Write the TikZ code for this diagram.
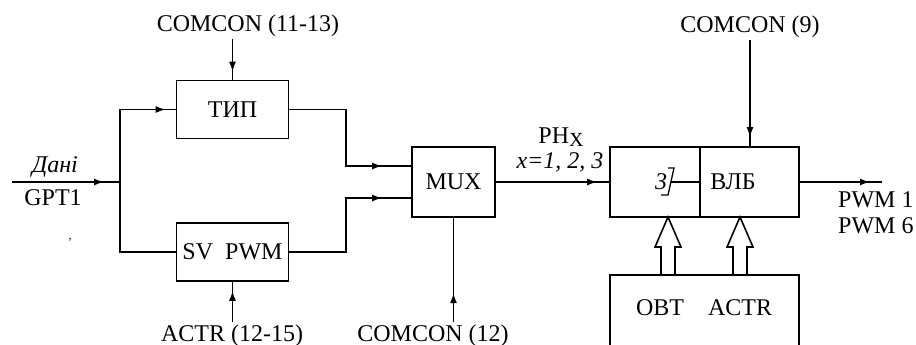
\documentclass[tikz,border=0pt]{standalone}
\usepackage{fontspec}
\setmainfont{Liberation Serif}
\usetikzlibrary{arrows.meta, decorations.markings, positioning, calc}

\begin{document}
\begin{tikzpicture}[
    x=1pt, y=-1pt,
    every node/.style={font=\fontsize{24}{28}\selectfont, inner sep=2pt},
    block/.style={draw, line width=1.6pt, minimum width=#1, minimum height=58pt, inner sep=0pt},
    wire/.style={line width=1.6pt},
    tipat/.style={postaction={decorate}, decoration={markings, mark=at position #1 with {\arrow{Latex[length=10pt,width=7pt]}}}}
  ]

    % Frame
    \useasboundingbox (0,0) rectangle (916,345);
    \clip (0,0) rectangle (916,345);

    % Blocks
    \node[block=112pt] (tip) at (232.5,109.5) {ТИП};
    \node[block=112pt] (svpwm) at (232.5,252) {SV\ \ PWM};
    \node[block=83pt, minimum height=70pt] (mux) at (453.5,182) {MUX};
    \node[block=90pt, minimum height=70pt] (conv) at (655,182) {};
    \node[block=99pt, minimum height=70pt] (vlb) at (749.5,182) {};
    \node[block=189pt, minimum height=100pt] (obt) at (704.5,325) {};

    % Labels
    \node[anchor=base] (comcon1) at (248,32) {COMCON (11-13)};
    \node[anchor=base] (dani) at (55,172) {\textit{Дані}};
    \node[anchor=base] (gpt) at (53,205) {GPT1};
    \node[font=\fontsize{12}{12}\selectfont] (speck) at (70,240) {,};
    \node[anchor=base] (actr1) at (232,341) {ACTR (12-15)};
    \node[anchor=base] (comcon2) at (433,341) {COMCON (12)};
    \node[anchor=base] (phx) at (561,143) {PH\raisebox{-0.3ex}{\fontsize{20}{20}\selectfont X}};
    \node[anchor=base] (xval) at (560,168) {\textit{x=1, 2, 3}};
    \node[anchor=base] (comcon3) at (750,33) {COMCON (9)};
    \node[anchor=base] (vlbtxt) at (733,189) {ВЛБ};
    \node[anchor=base] (three) at (661,189) {\textit{3}};
    \node[anchor=base west] (pwm1) at (836,207) {PWM 1};
    \node[anchor=base west] (pwm6) at (836,233) {PWM 6};
    \node[anchor=base] (obttxt) at (660,315) {OBT};
    \node[anchor=base] (actr2) at (740,315) {ACTR};

    % Wires
    \coordinate (gin) at (12,182);
    \coordinate (br) at (120,182);
    \coordinate (gout) at (882,182);
    \coordinate (m1) at ([yshift=16pt]mux.west);
    \coordinate (m2) at ([yshift=-16pt]mux.west);

    \draw[wire, tipat=-16pt] (gin) -- (br);
    \draw[wire, tipat=-10pt] (br) |- (tip.west);
    \draw[wire] (br) |- (svpwm.west);
    \draw[wire, tipat=-29pt] (tip.east) -- ++(56.5,0) |- (m1);
    \draw[wire, tipat=-29pt] (svpwm.east) -- ++(56.5,0) |- (m2);
    \draw[wire, tipat=-8pt] (comcon1.south -| tip.north) -- (tip.north);
    \draw[wire, tipat=-9pt] (actr1.north -| svpwm.south) -- (svpwm.south);
    \draw[wire, tipat=29pt] (comcon2.north -| mux.south) -- (mux.south);
    \draw[wire, tipat=-12pt] (mux.east) -- (conv.west);
    \draw[wire, tipat=-9pt] (comcon3.south) -- (comcon3.south |- vlb.north);
    \draw[wire, tipat=-12pt] (vlb.east) -- (gout);

    % Converter sign
    \draw[line width=1.3pt] (668,168) -- (674,168) -- (668,195) -- (661,195);
    \draw[wire] (671,182) -- (conv.east);

    % Hollow bus arrows
    \foreach \ax in {668,740}
      \draw[wire] ({\ax-7},275) -- ({\ax-7},247) -- ({\ax-13},247) -- (\ax,217)
        -- ({\ax+13},247) -- ({\ax+7},247) -- ({\ax+7},275);

\end{tikzpicture}
\end{document}
